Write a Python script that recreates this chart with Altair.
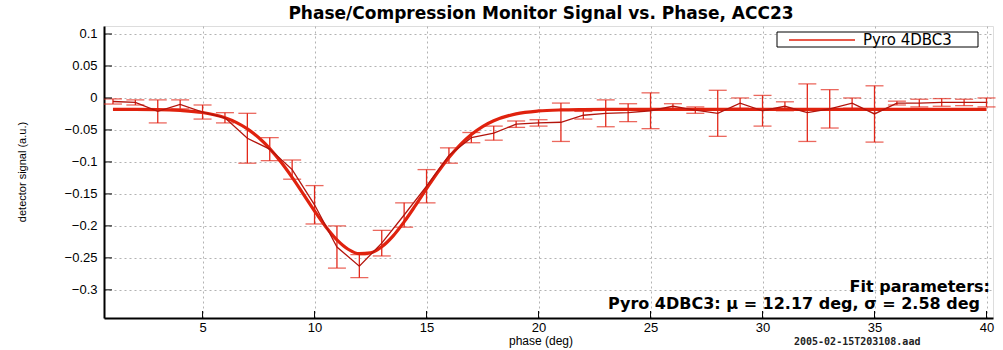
import altair as alt
import pandas as pd

# ---- data ----
phase = list(range(1, 41))
signal = [-0.0055, -0.007, -0.021, -0.010, -0.022, -0.031, -0.063, -0.080, -0.112, -0.167,
          -0.233, -0.263, -0.227, -0.183, -0.138, -0.090, -0.062, -0.055, -0.041, -0.039,
          -0.038, -0.027, -0.024, -0.023, -0.020, -0.013, -0.019, -0.024, -0.008, -0.020,
          -0.013, -0.023, -0.017, -0.008, -0.025, -0.008, -0.008, -0.007, -0.007, -0.007]
error = [0.004, 0.004, 0.018, 0.007, 0.011, 0.008, 0.039, 0.018, 0.015, 0.030,
         0.033, 0.018, 0.020, 0.019, 0.026, 0.012, 0.008, 0.011, 0.005, 0.005,
         0.030, 0.006, 0.021, 0.014, 0.028, 0.004, 0.005, 0.036, 0.008, 0.024,
         0.007, 0.045, 0.030, 0.008, 0.044, 0.003, 0.006, 0.006, 0.005, 0.007]

fit_phase = [1, 2, 3, 4, 5, 6, 6.5, 7, 7.5, 8, 8.5, 9, 9.5, 10, 10.5, 11, 11.5, 12, 12.5,
             13, 13.5, 14, 14.5, 15, 15.5, 16, 16.5, 17, 17.5, 18, 19, 20, 21, 22, 23, 40]
fit_signal = [-0.018, -0.018, -0.0182, -0.0195, -0.0228, -0.031, -0.0382, -0.0484, -0.0619,
              -0.0792, -0.1002, -0.1242, -0.1503, -0.1767, -0.2013, -0.2219, -0.2365, -0.2435,
              -0.2422, -0.2326, -0.2159, -0.1937, -0.1683, -0.1418, -0.1162, -0.0931, -0.0733,
              -0.0572, -0.0447, -0.0356, -0.0248, -0.0203, -0.0187, -0.0182, -0.018, -0.018]

x_ticks = [5, 10, 15, 20, 25, 30, 35, 40]
y_ticks = [-0.3, -0.25, -0.2, -0.15, -0.1, -0.05, 0, 0.05, 0.1]

title_text = "Phase/Compression Monitor Signal vs. Phase, ACC23"
legend_label = "Pyro 4DBC3"
fit_line1 = "Fit parameters:"
fit_line2 = "Pyro 4DBC3: \u03bc = 12.17 deg, \u03c3 = 2.58 deg"
stamp = "2005-02-15T203108.aad"

# ---- tables ----
df = pd.DataFrame({"phase": phase, "val": signal, "err": error})
df["lo"] = df["val"] - df["err"]
df["hi"] = df["val"] + df["err"]
fit_df = pd.DataFrame({"phase": fit_phase, "val": fit_signal})
xt_df = pd.DataFrame({"phase": x_ticks})
yt_df = pd.DataFrame({"val": y_ticks})
one = pd.DataFrame({"a": [0]})

W, H = 889, 292
xs = alt.Scale(domain=[0.6, 40.29], nice=False, zero=False)
ys = alt.Scale(domain=[-0.344, 0.1125], nice=False, zero=False)

LABEL_FONT = "Liberation Sans"
BOLD_FONT = "DejaVu Sans"
RED = "#e3281a"
DARK = "#b3140c"

x_axis = alt.Axis(values=x_ticks, title=None, grid=True, ticks=False,
                  labelFontSize=13, labelFont=LABEL_FONT, labelPadding=3,
                  labelColor="black", domainColor="black", domainWidth=2,
                  gridDash=[2, 3], gridColor="#a0a0a0", gridWidth=0.8,
                  labelFlush=False)
y_axis = alt.Axis(values=y_ticks, title=None, grid=True, ticks=False,
                  format=".2~f", labelFontSize=13, labelFont=LABEL_FONT,
                  labelPadding=7, labelColor="black", domainColor="black",
                  domainWidth=2, gridDash=[2, 3], gridColor="#a0a0a0",
                  gridWidth=0.8)


def X(f):
    return alt.X(f, scale=xs, axis=x_axis)


def Y(f):
    return alt.Y(f, scale=ys, axis=y_axis)


base = alt.Chart(df)

err_rule = base.mark_rule(color=RED, strokeWidth=1.3).encode(
    x=X("phase:Q"), y=Y("lo:Q"), y2="hi:Q")
cap_lo = base.mark_tick(color=RED, orient="horizontal", size=18, thickness=1.3).encode(
    x=X("phase:Q"), y=Y("lo:Q"))
cap_hi = base.mark_tick(color=RED, orient="horizontal", size=18, thickness=1.3).encode(
    x=X("phase:Q"), y=Y("hi:Q"))

fit_line = alt.Chart(fit_df).mark_line(color="#e0220e", strokeWidth=3.2,
                                       interpolate="monotone").encode(
    x=X("phase:Q"), y=Y("val:Q"))

data_line = base.mark_line(color=DARK, strokeWidth=1.3).encode(
    x=X("phase:Q"), y=Y("val:Q"))

# inward tick marks
xtick_marks = alt.Chart(xt_df).mark_rule(color="black", strokeWidth=1).encode(
    x=X("phase:Q"), y=alt.value(H), y2=alt.value(H - 7))
ytick_marks = alt.Chart(yt_df).mark_rule(color="black", strokeWidth=1).encode(
    y=Y("val:Q"), x=alt.value(0), x2=alt.value(8))

ann = alt.Chart(one)

title = ann.mark_text(text=title_text, font=BOLD_FONT, fontWeight="bold", fontSize=17,
                      align="center", baseline="middle", color="black").encode(
    x=alt.value(437), y=alt.value(-12))
ytitle = ann.mark_text(text="detector signal (a.u.)", font=LABEL_FONT, fontSize=11,
                       angle=270, align="center", baseline="middle", color="black").encode(
    x=alt.value(-81), y=alt.value(146))
xtitle = ann.mark_text(text="phase (deg)", font=LABEL_FONT, fontSize=12,
                       align="center", baseline="middle", color="black").encode(
    x=alt.value(437), y=alt.value(315))

fp1 = ann.mark_text(text=fit_line1, font=BOLD_FONT, fontWeight="bold", fontSize=16,
                    align="right", baseline="middle", color="black").encode(
    x=alt.value(886), y=alt.value(261))
fp2 = ann.mark_text(text=fit_line2, font=BOLD_FONT, fontWeight="bold", fontSize=16,
                    align="right", baseline="middle", color="black").encode(
    x=alt.value(876), y=alt.value(278))
stamp_t = ann.mark_text(text=stamp, font="DejaVu Sans Mono", fontWeight="bold", fontSize=10,
                        align="left", baseline="middle", color="#222222").encode(
    x=alt.value(690), y=alt.value(316))

# legend
leg_box = ann.mark_rect(fill="white", stroke="black", strokeWidth=1).encode(
    x=alt.value(673), x2=alt.value(874), y=alt.value(6), y2=alt.value(21))
leg_line = ann.mark_rule(color="#e0220e", strokeWidth=1.5).encode(
    x=alt.value(685), x2=alt.value(751), y=alt.value(14))
leg_text = ann.mark_text(text=legend_label, font=BOLD_FONT, fontSize=15, align="left",
                         baseline="middle", color="black").encode(
    x=alt.value(759), y=alt.value(14))

chart = alt.layer(
    err_rule, cap_lo, cap_hi, fit_line, data_line, xtick_marks, ytick_marks,
    leg_box, leg_line, leg_text, title, ytitle, xtitle, fp1, fp2, stamp_t
).properties(
    width=W, height=H,
    autosize=alt.AutoSizeParams(type="none"),
    padding={"left": 104, "top": 26, "right": 10, "bottom": 32},
).configure_view(stroke=None).configure(background="white")

chart.save("out.html", embed_options={"renderer": "svg", "actions": False})
